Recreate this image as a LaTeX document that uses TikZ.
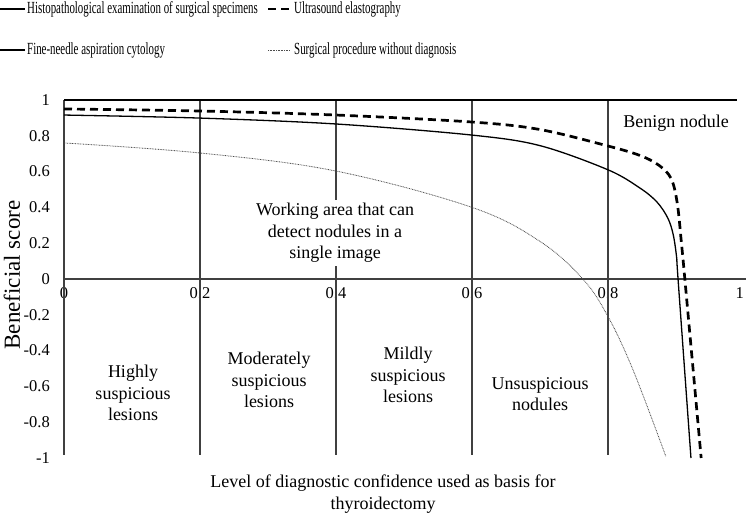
\documentclass[tikz,border=0pt]{standalone}
\usepackage{fontspec}
\setmainfont{Liberation Serif}
\newfontfamily\legfont{Liberation Serif}[FakeStretch=0.64]
\begin{document}
\begin{tikzpicture}[x=1pt,y=-1pt,
  gridline/.style={line width=1.3pt, draw=black!75},
  histo/.style={line width=2pt, black},
  elasto/.style={line width=2.7pt, black, dash pattern=on 8pt off 5pt},
  fna/.style={line width=1.3pt, black},
  surg/.style={line width=0.8pt, black!70, dash pattern=on 0.8pt off 0.8pt},
  ticklbl/.style={font=\fontsize{16.5}{19}\selectfont, inner sep=0pt},
  lbl/.style={font=\fontsize{18}{21.5}\selectfont, align=center, inner sep=1pt},
  leg/.style={font=\legfont\fontsize{17}{20}\selectfont, anchor=west, inner sep=0pt}]
\useasboundingbox (0,0) rectangle (746,516);
% legend
\draw[histo] (0,9) -- (25,9);
\node[leg] (l1) at (27,9) {Histopathological examination of surgical specimens};
\draw[elasto] (268,9) -- (289,9);
\node[leg] (l2) at (294,9) {Ultrasound elastography};
\draw[fna] (0,50) -- (25,50);
\node[leg] (l3) at (27,50) {Fine-needle aspiration cytology};
\draw[surg] (268,50) -- (290,50);
\node[leg] (l4) at (294,50) {Surgical procedure without diagnosis};
% axis label
\node[rotate=90, font=\fontsize{23}{26}\selectfont, inner sep=0pt] (ylab) at (12,275) {Beneficial score};
\begin{scope}[shift={(64,279)}, x=680pt, y=179pt]
  % tick labels
  \foreach \v/\t in {0/0,0.2/0.2,0.4/0.4,0.6/0.6,0.8/0.8}
    \node[ticklbl] (xt\t) at (\v,-0.078) {\t};
  \node[ticklbl, anchor=east] (xt1) at (1.0,-0.078) {1};
  \foreach \v/\t in {1/1,0.8/0.8,0.6/0.6,0.4/0.4,0.2/0.2,0/0,-0.2/-0.2,-0.4/-0.4,-0.6/-0.6,-0.8/-0.8,-1/-1}
    \node[ticklbl, anchor=east] (yt\t) at (-0.0206,\v) {\t};
  % grid
  \draw[gridline] (0,1) -- (0,-0.985);
  \foreach \v in {0.2,0.4,0.6,0.8}
    \draw[gridline] (\v,1) -- (\v,-0.985);
  \draw[gridline] (0,0) -- (1.02,0);
  % curves
  \draw[histo] (0,1) -- (0.99,1);
  \draw[elasto] plot[smooth, tension=0.55] coordinates {(0,0.95) (0.2,0.9385) (0.4,0.916) (0.6,0.877) (0.7,0.835) (0.8,0.743) (0.847,0.69) (0.875,0.635) (0.893,0.56) (0.902,0.42) (0.908,0.2) (0.913,0) (0.937,-1)};
  \draw[fna] plot[smooth, tension=0.55] coordinates {(0,0.916) (0.2,0.899) (0.4,0.866) (0.6,0.804) (0.7,0.745) (0.8,0.61) (0.847,0.508) (0.872,0.43) (0.888,0.34) (0.896,0.246) (0.901,0.117) (0.903,0) (0.922,-1)};
  \draw[surg] plot[smooth, tension=0.6] coordinates {(0,0.76) (0.2,0.704) (0.4,0.603) (0.6,0.40) (0.7,0.21) (0.763,0) (0.8,-0.21) (0.837,-0.51) (0.885,-0.99)};
\end{scope}
% region labels
\node[lbl, fill=white, inner sep=3pt] (work) at (335,233) {Working area that can\\detect nodules in a\\single image};
\node[lbl] (benign) at (676,123) {Benign nodule};
\node[lbl] (high) at (133,393) {Highly\\suspicious\\lesions};
\node[lbl] (mod) at (269,380) {Moderately\\suspicious\\lesions};
\node[lbl] (mild) at (408,375) {Mildly\\suspicious\\lesions};
\node[lbl] (unsus) at (540,394) {Unsuspicious\\nodules};
\node[lbl] (xlab) at (383,494) {Level of diagnostic confidence used as basis for\\thyroidectomy};
\end{tikzpicture}
\end{document}
